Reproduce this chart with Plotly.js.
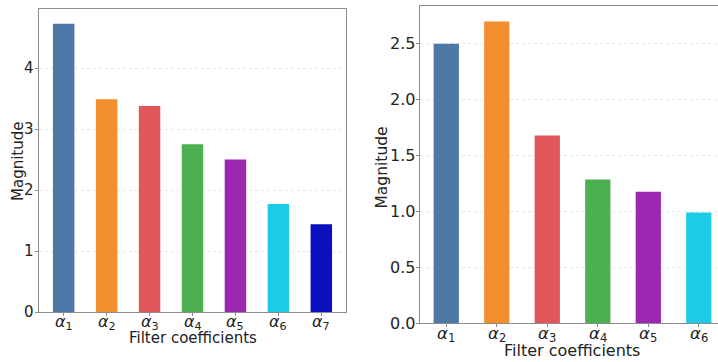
<!DOCTYPE html>
<html>
<head>
<meta charset="utf-8">
<script src="https://cdn.plot.ly/plotly-3.0.1.min.js"></script>
<style>html,body{margin:0;padding:0;background:#fff;}#chart{width:718px;height:362px;}</style>
</head>
<body>
<div id="chart"></div>
<script>
const leftLabels = ["<i>α</i><sub>1</sub>","<i>α</i><sub>2</sub>","<i>α</i><sub>3</sub>","<i>α</i><sub>4</sub>","<i>α</i><sub>5</sub>","<i>α</i><sub>6</sub>","<i>α</i><sub>7</sub>"];
const leftValues = [4.73, 3.49, 3.38, 2.75, 2.50, 1.77, 1.44];
const leftColors = ["#4e79a7","#f28e2b","#e15759","#4caf50","#9c27b0","#1ccbe6","#0c0fbd"];
const leftYTicks = [0, 1, 2, 3, 4];
const leftYTickText = ["0", "1", "2", "3", "4"];

const rightLabels = ["<i>α</i><sub>1</sub>","<i>α</i><sub>2</sub>","<i>α</i><sub>3</sub>","<i>α</i><sub>4</sub>","<i>α</i><sub>5</sub>","<i>α</i><sub>6</sub>"];
const rightValues = [2.50, 2.70, 1.68, 1.285, 1.177, 0.99];
const rightColors = ["#4e79a7","#f28e2b","#e15759","#4caf50","#9c27b0","#1ccbe6"];
const rightYTicks = [0, 0.5, 1.0, 1.5, 2.0, 2.5];
const rightYTickText = ["0.0", "0.5", "1.0", "1.5", "2.0", "2.5"];

const xTitle = "Filter coefficients";
const yTitle = "Magnitude";

const FAM = "DejaVu Sans";
const TXT = "#222";
const W = 718, H = 362;

const leftIdx = leftLabels.map((_, i) => i);
const rightIdx = rightLabels.map((_, i) => i);

const traces = [
  {type: "bar", x: leftIdx, y: leftValues, width: 0.5,
   marker: {color: leftColors, line: {width: 0}}, xaxis: "x", yaxis: "y", hoverinfo: "none"},
  {type: "bar", x: rightIdx, y: rightValues, width: 0.5,
   marker: {color: rightColors, line: {width: 0}}, xaxis: "x2", yaxis: "y2", hoverinfo: "none"}
];

function ax(extra) {
  return Object.assign({
    showline: true, linecolor: "#8c8c8c", linewidth: 1,
    ticks: "outside", ticklen: 3, tickcolor: "#8c8c8c",
    zeroline: false, automargin: false, showticklabels: false
  }, extra);
}

const annotations = [
  {text: xTitle, xref: "paper", yref: "paper", x: 193/W, y: 1 - 338/H, xanchor: "center", yanchor: "middle",
   showarrow: false, font: {family: FAM, size: 15, color: TXT}},
  {text: yTitle, xref: "paper", yref: "paper", x: 18/W, y: 1 - 162/H, xanchor: "center", yanchor: "middle",
   textangle: -90, showarrow: false, font: {family: FAM, size: 15, color: TXT}},
  {text: xTitle, xref: "paper", yref: "paper", x: 572/W, y: 1 - 350/H, xanchor: "center", yanchor: "middle",
   showarrow: false, font: {family: FAM, size: 16, color: TXT}},
  {text: yTitle, xref: "paper", yref: "paper", x: 381.5/W, y: 1 - 168/H, xanchor: "center", yanchor: "middle",
   textangle: -90, showarrow: false, font: {family: FAM, size: 15.5, color: TXT}}
];
leftLabels.forEach((t, i) => annotations.push({
  text: t, xref: "x", yref: "paper", x: leftIdx[i], y: 1 - 322/H, xanchor: "center", yanchor: "middle",
  showarrow: false, font: {family: FAM, size: 16, color: TXT}
}));
rightLabels.forEach((t, i) => annotations.push({
  text: t, xref: "x2", yref: "paper", x: rightIdx[i], y: 1 - 334.5/H, xanchor: "center", yanchor: "middle",
  showarrow: false, font: {family: FAM, size: 16.5, color: TXT}
}));
leftYTicks.forEach((v, i) => annotations.push({
  text: leftYTickText[i], xref: "paper", yref: "y", x: 39/W, y: v, xanchor: "right", yanchor: "middle",
  xshift: -3, showarrow: false, font: {family: FAM, size: 15, color: TXT}
}));
rightYTicks.forEach((v, i) => annotations.push({
  text: rightYTickText[i], xref: "paper", yref: "y2", x: 420/W, y: v, xanchor: "right", yanchor: "middle",
  xshift: -3, showarrow: false, font: {family: FAM, size: 16, color: TXT}
}));

const layout = {
  width: W, height: H,
  margin: {l: 0, r: 0, t: 0, b: 0},
  paper_bgcolor: "#fff", plot_bgcolor: "#fff",
  showlegend: false,
  font: {family: FAM, color: TXT},
  xaxis: ax({
    domain: [39/W, 346/W], anchor: "y",
    range: [-0.575, 6.575], mirror: true, showgrid: false,
    tickmode: "array", tickvals: leftIdx
  }),
  yaxis: ax({
    domain: [50/H, 353/H], anchor: "x",
    range: [0, 4.97], mirror: true, tickmode: "array", tickvals: leftYTicks,
    showgrid: true, gridcolor: "#e0e0e0", griddash: "dot", gridwidth: 0.8
  }),
  xaxis2: ax({
    domain: [420/W, 1], anchor: "y2",
    range: [-0.52, 5.38], mirror: true, showgrid: false,
    tickmode: "array", tickvals: rightIdx
  }),
  yaxis2: ax({
    domain: [38.7/H, 355.7/H], anchor: "x2",
    range: [0, 2.835], mirror: false, tickmode: "array", tickvals: rightYTicks,
    showgrid: true, gridcolor: "#e0e0e0", griddash: "dot", gridwidth: 0.8
  }),
  annotations: annotations
};

Plotly.newPlot("chart", traces, layout, {staticPlot: true, displayModeBar: false});
</script>
</body>
</html>
